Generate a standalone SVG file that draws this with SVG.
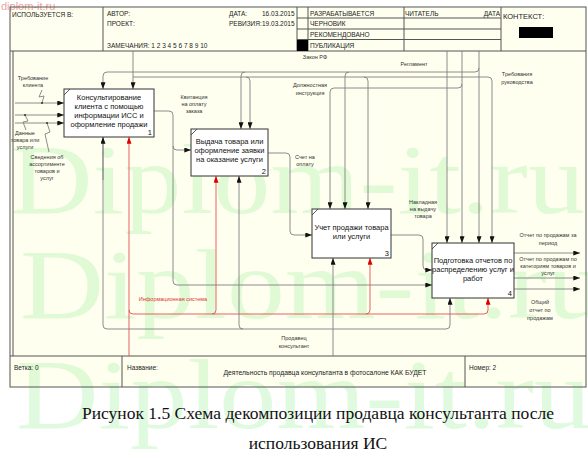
<svg xmlns="http://www.w3.org/2000/svg" width="588" height="460" viewBox="0 0 588 460">
<defs>
<style>
.t{font-family:"Liberation Sans",Arial,sans-serif;fill:#222}
.h{font-size:6.5px}
.bx{font-size:7.5px;text-anchor:middle;fill:#111}
.lb{font-size:5.5px;text-anchor:middle;fill:#333}
.num{font-size:7.5px;text-anchor:end;fill:#111}
.fr{fill:none;stroke:#555;stroke-width:1}
.c{fill:none;stroke:#808080;stroke-width:0.9}
.ca{fill:none;stroke:#808080;stroke-width:0.9;marker-end:url(#ah)}
.ra{fill:none;stroke:#e05050;stroke-width:0.9;marker-end:url(#ahr)}
.box{fill:#ffffff;stroke:#333;stroke-width:1}
.wm{font-family:"Liberation Serif","Times New Roman",serif;font-size:100px;fill:#90ee90;fill-opacity:0.28}
.cap{font-family:"Liberation Serif","Times New Roman",serif;font-size:17.5px;fill:#111;text-anchor:middle}
</style>
<marker id="ah" viewBox="0 0 8 6" refX="8" refY="3" markerWidth="7" markerHeight="5" orient="auto" markerUnits="userSpaceOnUse"><path d="M0,0 L8,3 L0,6 z" fill="#111"/></marker>
<marker id="ahr" viewBox="0 0 8 6" refX="8" refY="3" markerWidth="7" markerHeight="5" orient="auto" markerUnits="userSpaceOnUse"><path d="M0,0 L8,3 L0,6 z" fill="#e00000"/></marker>
</defs>
<rect x="0" y="0" width="588" height="460" fill="#ffffff"/>
<rect x="10" y="7" width="576" height="380" fill="#fffff0"/>
<g id="watermark">
<text class="wm" x="10" y="213" textLength="575" lengthAdjust="spacingAndGlyphs">Diplom-it.ru</text>
<text class="wm" x="20" y="318" textLength="585" lengthAdjust="spacingAndGlyphs">Diplom-it.ru</text>
<text class="wm" x="16" y="428" textLength="575" lengthAdjust="spacingAndGlyphs">Diplom-it.ru</text>
<text x="1" y="10" style="font-family:'Liberation Sans',Arial,sans-serif;font-size:11px;fill:#e88a8a;fill-opacity:0.8">diplom-it.ru</text>
</g>
<g id="header">
<rect class="fr" x="10" y="7" width="576" height="380"/>
<line class="fr" x1="13" y1="51" x2="13" y2="356"/>
<line class="fr" x1="10" y1="51" x2="586" y2="51"/>
<line class="fr" x1="103" y1="7" x2="103" y2="51"/>
<line class="fr" x1="297" y1="7" x2="297" y2="51"/>
<line class="fr" x1="308" y1="7" x2="308" y2="51"/>
<line class="fr" x1="404" y1="7" x2="404" y2="51"/>
<line class="fr" x1="501" y1="7" x2="501" y2="51"/>
<line class="fr" x1="297" y1="18" x2="501" y2="18"/>
<line class="fr" x1="297" y1="29" x2="501" y2="29"/>
<line class="fr" x1="297" y1="39.5" x2="501" y2="39.5"/>
<rect x="297" y="40" width="11" height="11" fill="#000"/>
<rect x="519" y="27" width="34" height="11" fill="#000"/>
<text class="t h" x="12" y="17">ИСПОЛЬЗУЕТСЯ В:</text>
<text class="t h" x="107" y="16">АВТОР:</text>
<text class="t h" x="107" y="26">ПРОЕКТ:</text>
<text class="t h" x="107" y="48">ЗАМЕЧАНИЯ:  1 2 3 4 5 6 7 8 9 10</text>
<text class="t h" x="229" y="16">ДАТА:</text>
<text class="t h" x="262" y="16">16.03.2015</text>
<text class="t h" x="229" y="26">РЕВИЗИЯ:</text>
<text class="t h" x="262" y="26">19.03.2015</text>
<text class="t h" x="310" y="16">РАЗРАБАТЫВАЕТСЯ</text>
<text class="t h" x="310" y="26">ЧЕРНОВИК</text>
<text class="t h" x="310" y="37">РЕКОМЕНДОВАНО</text>
<text class="t h" x="310" y="48">ПУБЛИКАЦИЯ</text>
<text class="t h" x="405" y="16">ЧИТАТЕЛЬ</text>
<text class="t h" x="500" y="16" text-anchor="end">ДАТА</text>
<text class="t" x="503" y="19" font-size="7.5">КОНТЕКСТ:</text>
</g>
<g id="footer">
<line class="fr" x1="10" y1="356" x2="586" y2="356"/>
<line class="fr" x1="122" y1="356" x2="122" y2="387"/>
<line class="fr" x1="465" y1="356" x2="465" y2="387"/>
<text class="t h" x="14" y="370">Ветка: 0</text>
<text class="t h" x="127" y="370">Название:</text>
<text class="t" x="325" y="375" font-size="6.8" text-anchor="middle">Деятельность продавца консультанта в фотосалоне КАК БУДЕТ</text>
<text class="t h" x="469" y="370">Номер: 2</text>
</g>
<g id="connectors">
<path class="ca" d="M133,51 V89"/>
<path class="ca" d="M133,77 H488 Q492,77 492,81 V243"/>
<path class="ca" d="M246,77 Q250,77 250,81 V129"/>
<path class="ca" d="M364,77 Q368,77 368,81 V209"/>
<path class="ca" d="M479,51 V243"/>
<path class="ca" d="M479,68 Q479,72 475,72 H107 Q103,72 103,76 V89"/>
<path class="ca" d="M245,72 Q241,72 241,76 V129"/>
<path class="ca" d="M349,72 Q345,72 345,76 V209"/>
<path class="ca" d="M462,51 V243"/>
<path class="ca" d="M462,84 Q462,88 458,88 H334 Q330,88 330,92 V209"/>
<path class="ca" d="M447,51 V243"/>
<path class="ca" d="M15,103 H64"/>
<path class="ca" d="M15,115 H64"/>
<path class="ca" d="M15,123 H64"/>
<polyline class="c" points="42,90 39,97 44,96 42,103"/>
<polyline class="c" points="25,115 28,121 23,122 26,130"/>
<polyline class="c" points="47,123 50,132 45,134 49,152"/>
<circle cx="42" cy="103" r="1" fill="#333"/>
<circle cx="25" cy="115" r="1" fill="#333"/>
<circle cx="47" cy="123" r="1" fill="#333"/>
<path class="ca" d="M154,111 H169 Q173,111 173,115 V281 Q173,285 177,285 H432"/>
<path class="ca" d="M173,146 Q173,150 177,150 H191"/>
<path class="ca" d="M268,153 H286 Q290,153 290,157 V231 Q290,235 294,235 H312"/>
<path class="ca" d="M391,235 H419 Q423,235 423,239 V266 Q423,270 427,270 H432"/>
<path class="ca" d="M514,253 H580"/>
<path class="ca" d="M514,278 H580"/>
<path class="ca" d="M514,289 H580"/>
<path class="ra" d="M129,356 V137"/>
<path class="ra" d="M129,310 Q129,314 133,314 H484 Q488,314 488,310 V298"/>
<path class="ra" d="M212,314 Q216,314 216,310 V176"/>
<path class="ra" d="M366,314 Q370,314 370,310 V258"/>
<path class="ca" d="M333,356 V258"/>
<path class="ca" d="M103,137 V325 Q103,329 107,329 H446 Q450,329 450,325 V298"/>
<path class="ca" d="M103,180 V137"/>
<path class="ca" d="M243,329 Q239,329 239,325 V176"/>
</g>
<g id="labels" class="t">
<text class="lb" x="33" y="80">Требование</text>
<text class="lb" x="33" y="87">клиента</text>
<text class="lb" x="25" y="135">Данные</text>
<text class="lb" x="25" y="142">товара или</text>
<text class="lb" x="25" y="149">услуги</text>
<text class="lb" x="47" y="159">Сведения об</text>
<text class="lb" x="47" y="166">ассортименте</text>
<text class="lb" x="47" y="173">товаров и</text>
<text class="lb" x="47" y="180">услуг</text>
<text class="lb" x="315" y="59">Закон РФ</text>
<text class="lb" x="414" y="66">Регламент</text>
<text class="lb" x="310" y="87">Должностная</text>
<text class="lb" x="310" y="95">инструкция</text>
<text class="lb" x="517" y="76">Требования</text>
<text class="lb" x="517" y="84">руководства</text>
<text class="lb" x="194" y="99">Квитанция</text>
<text class="lb" x="194" y="106">на оплату</text>
<text class="lb" x="194" y="113">заказа</text>
<text class="lb" x="305" y="159">Счет на</text>
<text class="lb" x="305" y="166">оплату</text>
<text class="lb" x="423" y="204">Накладная</text>
<text class="lb" x="423" y="211">на выдачу</text>
<text class="lb" x="423" y="218">товара</text>
<text class="lb" x="548" y="237">Отчет по продажам за</text>
<text class="lb" x="548" y="245">период</text>
<text class="lb" x="548" y="261">Отчет по продажам по</text>
<text class="lb" x="548" y="268">категориям товаров и</text>
<text class="lb" x="548" y="275">услуг</text>
<text class="lb" x="540" y="304">Общий</text>
<text class="lb" x="540" y="312">отчет по</text>
<text class="lb" x="540" y="320">продажам</text>
<text class="lb" x="173" y="301" style="fill:#e03030">Информационная система</text>
<text class="lb" x="294" y="340">Продавец</text>
<text class="lb" x="294" y="348">консультант</text>
</g>
<g id="node1">
<rect class="box" x="64" y="89" width="90" height="48"/>
<line x1="64" y1="95" x2="70" y2="89" stroke="#333" stroke-width="0.8"/>
<text class="t bx" x="109" y="100">Консультирование</text>
<text class="t bx" x="109" y="109">клиента с помощью</text>
<text class="t bx" x="109" y="118">информации ИСС и</text>
<text class="t bx" x="109" y="127">оформление продажи</text>
<text class="t num" x="152" y="135">1</text>
</g>
<g id="node2">
<rect class="box" x="191" y="129" width="77" height="47"/>
<line x1="191" y1="135" x2="197" y2="129" stroke="#333" stroke-width="0.8"/>
<text class="t bx" x="229.5" y="144">Выдача товара или</text>
<text class="t bx" x="229.5" y="153">оформление заявки</text>
<text class="t bx" x="229.5" y="162">на оказание услуги</text>
<text class="t num" x="266" y="174">2</text>
</g>
<g id="node3">
<rect class="box" x="312" y="209" width="79" height="49"/>
<line x1="312" y1="215" x2="318" y2="209" stroke="#333" stroke-width="0.8"/>
<text class="t bx" x="351.5" y="230">Учет продажи товара</text>
<text class="t bx" x="351.5" y="239">или услуги</text>
<text class="t num" x="389" y="256">3</text>
</g>
<g id="node4">
<rect class="box" x="432" y="243" width="82" height="55"/>
<line x1="432" y1="249" x2="438" y2="243" stroke="#333" stroke-width="0.8"/>
<text class="t bx" x="473" y="263">Подготовка отчетов по</text>
<text class="t bx" x="473" y="272">распределению услуг и</text>
<text class="t bx" x="473" y="281">работ</text>
<text class="t num" x="512" y="296">4</text>
</g>
<g id="caption">
<text class="cap" x="318" y="419">Рисунок 1.5 Схема декомпозиции продавца консультанта после</text>
<text class="cap" x="318" y="449">использования ИС</text>
</g>
</svg>
